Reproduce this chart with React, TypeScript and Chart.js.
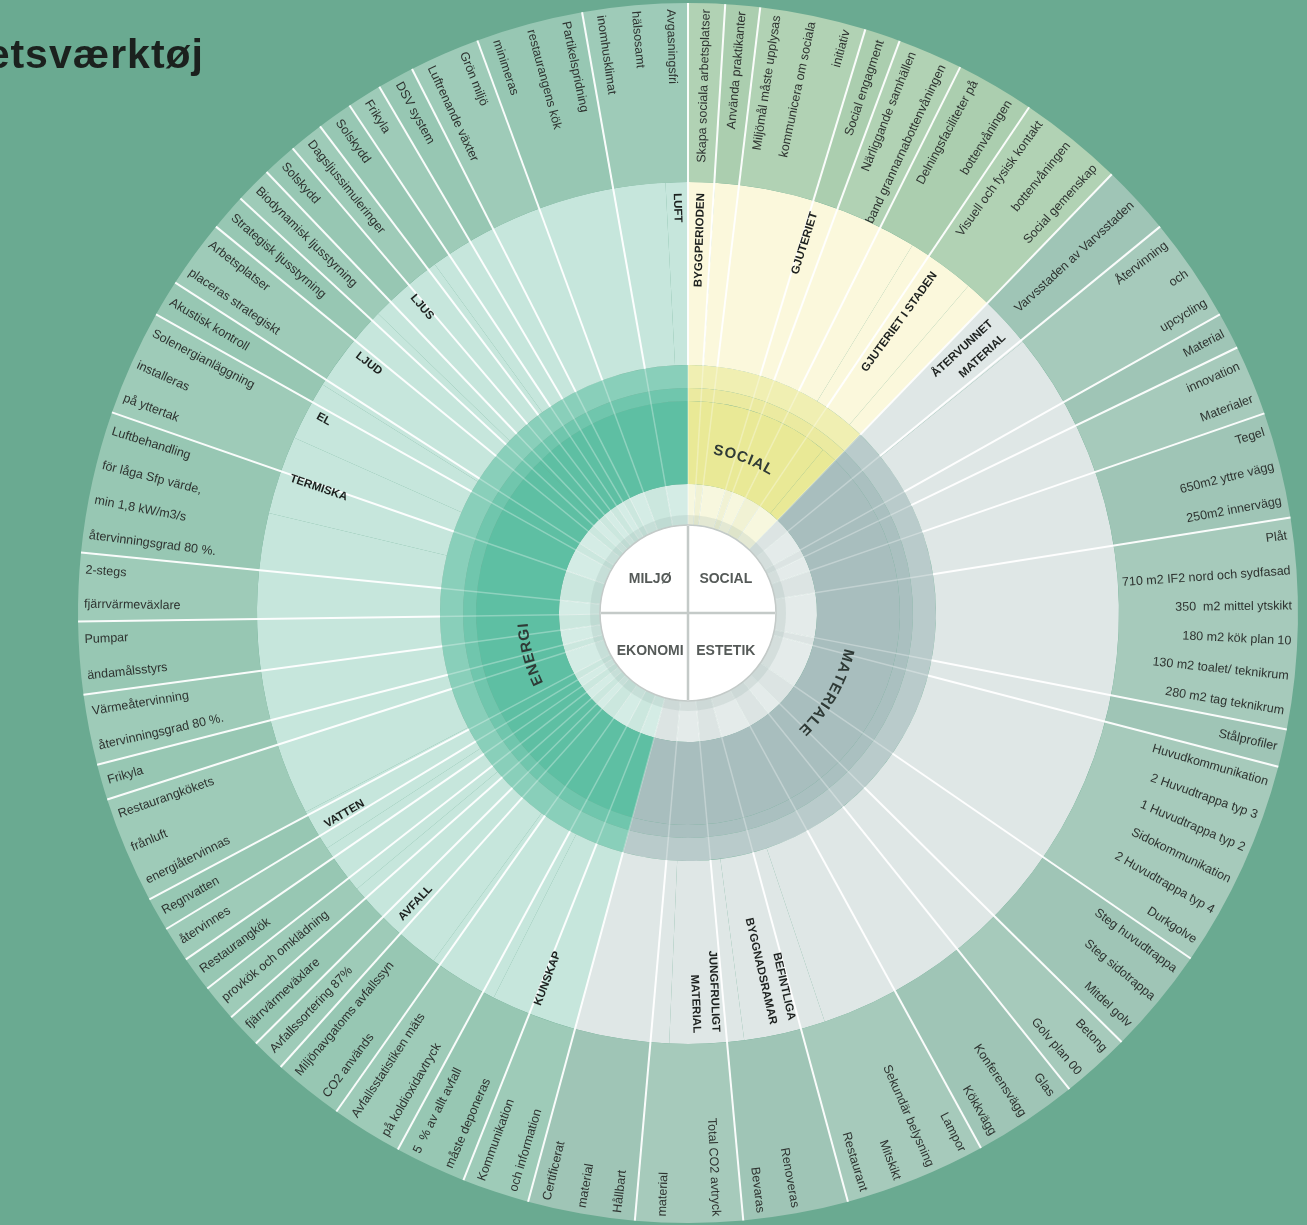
import React, { useEffect, useRef } from 'react';
import { Chart, registerables } from 'chart.js';

Chart.register(...registerables);

const TITLE = 'etsværktøj';
const CENTER_LABELS = ['MILJØ', 'SOCIAL', 'EKONOMI', 'ESTETIK'];

// Main categories, clockwise from 12 o'clock (degrees)
const mainCategories = ['Social', 'Materiale', 'Miljø'];
const mainSpans = [44, 151.2, 164.8];

// Inner labelled ring
const coreLabels = ['SOCIAL', '', 'MATERIALE', 'ENERGI', ''];
const coreSpans = [39.6, 4.4, 151.2, 120.2, 44.6];

// Sub-category ring
const midLabels = [
  'BYGGPERIODEN', 'GJUTERIET', 'GJUTERIET I STADEN', '',
  'ÅTERVUNNET\nMATERIAL', '', 'BEFINTLIGA\nBYGGNADSRAMAR', 'JUNGFRULIGT\nMATERIAL', '',
  'KUNSKAP', '', 'AVFALL', '', 'VATTEN', '', 'TERMISKA', 'EL', 'LJUD', 'LJUS', '', 'LUFT',
];
const midSpans = [
  3.6, 27.8, 9.2, 3.4,
  7, 110.5, 11, 10, 12.7,
  11.6, 9.4, 14, 6.7, 5.6, 40.9, 10.6, 8, 12, 10, 33, 3,
];

// Outer leaves
const leafLabels = [
  // Social
  'Skapa sociala arbetsplatser',
  'Använda praktikanter',
  'Miljömål måste upplysas\nkommunicera om sociala\ninitiativ',
  'Social engagment',
  'Närliggande samhällen\nband grannarnabottenvåningen',
  'Delningsfaciliteter på\nbottenvåningen',
  'Visuell och fysisk kontakt\nbottenvåningen\nSocial gemenskap',
  // Materiale
  'Varvsstaden av Varvsstaden',
  'Återvinning\noch\nupcycling',
  'Material',
  'innovation\nMaterialer',
  'Tegel\n650m2 yttre vägg\n250m2 innervägg',
  'Plåt\n710 m2 IF2 nord och sydfasad\n350  m2 mittel ytskikt\n180 m2 kök plan 10\n130 m2 toalet/ teknikrum\n280 m2 tag teknikrum',
  'Stålprofiler',
  'Huvudkommunikation\n2 Huvudtrappa typ 3\n1 Huvudtrappa typ 2\nSidokommunikation\n2 Huvudtrappa typ 4\nDurkgolve',
  'Steg huvudtrappa\nSteg sidotrappa\nMitdel golv',
  'Betong\nGolv plan 00',
  'Glas\nKonferensvägg\nKökkvägg',
  'Lampor\nSekundär belysning\nMitskikt\nRestaurant',
  '\nRenoveras\nBevaras',
  'Total CO2 avtryck\nmaterial',
  'Certificerat\nmaterial\nHållbart',
  // Miljø
  'Kommunikation\noch information',
  '5  % av allt avfall\nmåste deponeras',
  'Avfallsstatistiken mäts\npå koldioxidavtryck',
  'Miljönavgatoms avfallssyn\nCO2 används',
  'Avfallssortering 87%',
  'fjärrvärmeväxlare',
  'provkök och omklädning',
  'Restaurangkök',
  'återvinnes',
  'Regnvatten',
  'Restaurangkökets\nfrånluft\nenergiåtervinnas',
  'Frikyla',
  'Värmeåtervinning\nåtervinningsgrad 80 %.',
  'Pumpar\nändamålsstyrs',
  '2-stegs\nfjärrvärmeväxlare',
  'Luftbehandling\nför låga Sfp värde,\nmin 1,8 kW/m3/s\nåtervinningsgrad 80 %.',
  'Solenergianläggning\ninstalleras\npå yttertak',
  'Akustisk kontroll',
  'Arbetsplatser\nplaceras strategiskt',
  'Strategisk ljusstyrning',
  'Biodynamisk ljusstyrning',
  'Solskydd',
  'Dagsljussimuleringer',
  'Solskydd',
  'Frikyla',
  'DSV system',
  'Grön miljö\nLuftrenande växter',
  'Partikelspridning\nrestaurangens kök\nminimeras',
  'Avgasningsfri\nhälsosamt\ninomhusklimat',
];
const leafSpans = [
  3.5, 3.3, 10.1, 3.4, 6.2, 7.5, 10,
  6.7, 10, 3.5, 6.7, 10.1, 20, 3.6, 19.9, 10.2, 6.6, 10, 13.5, 10, 10.2, 10.2,
  6.4, 6.8, 6.8, 6.7, 3.2, 3.4, 3.5, 3.4, 3.4, 3.2, 10.2, 3.4, 6.7, 6.9, 6.5, 13.5,
  10.1, 3.5, 6.5, 3.5, 3.5, 3.3, 3.3, 3.4, 3.3, 3.5, 6.7, 10.2, 10,
];

// ---------- styles ----------
const BG = '#6aaa91';
const PALETTE: Record<string, any> = {
  Social: { leaf: ['#b1d2b4', '#abceaf'], mid: '#fbf8dc', band1: '#f0efb2', band2: '#ebeaa0', core: '#e9e996', pale: ['#f7f7de', '#f1f2d4'] },
  Materiale: { leaf: ['#a6cabb', '#9fc5b6'], mid: '#dfe7e6', band1: '#b9cbcb', band2: '#aac0c0', core: '#a8bebe', pale: ['#e4ebea', '#dce4e3'] },
  'Miljø': { leaf: ['#9ecbb8', '#97c7b3'], mid: '#c6e6dc', band1: '#89cfba', band2: '#70c6ad', core: '#5ebfa3', pale: ['#d4ece5', '#cbe7de'] },
};
const FONT = '"Liberation Sans", Arial, sans-serif';

function catOf(deg: number): string {
  let acc = 0;
  for (let i = 0; i < mainSpans.length; i++) {
    acc += mainSpans[i];
    if (deg < acc) return mainCategories[i];
  }
  return mainCategories[mainCategories.length - 1];
}

function colorsFor(spans: number[], pick: (p: any, i: number) => string): string[] {
  let acc = 0;
  return spans.map((s, i) => {
    const c = catOf(acc + s / 2);
    acc += s;
    return pick(PALETTE[c], i);
  });
}

function radialText(ctx: CanvasRenderingContext2D, t: string, cx: number, cy: number, a: number, r: number, dy: number, orient: number) {
  ctx.save();
  ctx.translate(cx, cy);
  if (Math.cos(orient) >= 0) {
    ctx.rotate(a);
    ctx.textAlign = 'right';
    ctx.fillText(t, r, dy);
  } else {
    ctx.rotate(a + Math.PI);
    ctx.textAlign = 'left';
    ctx.fillText(t, -r, dy);
  }
  ctx.restore();
}

function arcText(ctx: CanvasRenderingContext2D, text: string, cx: number, cy: number, r: number, center: number, spacing: number) {
  const chars = [...text];
  const widths = chars.map((ch) => ctx.measureText(ch).width);
  const total = widths.reduce((a, b) => a + b, 0) + spacing * (chars.length - 1);
  let cur = center - total / 2 / r;
  chars.forEach((ch, i) => {
    const w = widths[i];
    const a = cur + w / 2 / r;
    ctx.save();
    ctx.translate(cx + r * Math.cos(a), cy + r * Math.sin(a));
    ctx.rotate(a + Math.PI / 2);
    ctx.textAlign = 'center';
    ctx.textBaseline = 'middle';
    ctx.fillText(ch, 0, 0);
    ctx.restore();
    cur += (w + spacing) / r;
  });
}

const sunburstPlugin = {
  id: 'sunburst',
  beforeDraw(chart: any) {
    const { ctx, width, height } = chart;
    ctx.save();
    ctx.fillStyle = BG;
    ctx.fillRect(0, 0, width, height);
    ctx.restore();
  },
  afterDatasetsDraw(chart: any) {
    const ctx: CanvasRenderingContext2D = chart.ctx;
    const meta = (i: number) => chart.getDatasetMeta(i).data as any[];
    const leaves = meta(0);
    const mids = meta(1);
    const cores = meta(4);
    const pale = meta(5);
    const cx = leaves[0].x;
    const cy = leaves[0].y;
    const rOut = leaves[0].outerRadius;
    const rLeafIn = leaves[0].innerRadius;
    const rMidIn = mids[0].innerRadius;
    const rPaleOut = pale[0].outerRadius;
    const rHole = pale[0].innerRadius;

    const seg = (a: number, r0: number, r1: number, color: string, w: number) => {
      ctx.beginPath();
      ctx.moveTo(cx + r0 * Math.cos(a), cy + r0 * Math.sin(a));
      ctx.lineTo(cx + r1 * Math.cos(a), cy + r1 * Math.sin(a));
      ctx.strokeStyle = color;
      ctx.lineWidth = w;
      ctx.stroke();
    };

    // separator lines through all rings
    ctx.save();
    leaves.forEach((arc) => {
      const a = arc.startAngle;
      seg(a, rHole, rPaleOut, 'rgba(255,255,255,0.6)', 1);
      seg(a, rPaleOut, rMidIn, 'rgba(255,255,255,0.3)', 1.5);
      seg(a, rMidIn, rOut, 'rgba(255,255,255,0.95)', 2);
    });
    ctx.restore();

    // leaf labels
    ctx.save();
    ctx.font = `12.5px ${FONT}`;
    ctx.fillStyle = '#2e3330';
    ctx.textBaseline = 'middle';
    leaves.forEach((arc, i) => {
      const lines = leafLabels[i].split('\n');
      const n = lines.length;
      const step = (arc.endAngle - arc.startAngle) / n;
      const right = Math.cos((arc.startAngle + arc.endAngle) / 2) >= 0;
      lines.forEach((t, j) => {
        if (!t) return;
        const a = right ? arc.startAngle + (j + 0.5) * step : arc.endAngle - (j + 0.5) * step;
        radialText(ctx, t, cx, cy, a, rOut - 6, 0, a);
      });
    });
    ctx.restore();

    // sub-category labels
    ctx.save();
    ctx.font = `bold 11.5px ${FONT}`;
    ctx.fillStyle = '#1d211f';
    ctx.textBaseline = 'middle';
    mids.forEach((arc, i) => {
      const lab = midLabels[i];
      if (!lab) return;
      const lines = lab.split('\n');
      const a = (arc.startAngle + arc.endAngle) / 2;
      lines.forEach((t, j) => {
        radialText(ctx, t, cx, cy, a, rLeafIn - 11, (j - (lines.length - 1) / 2) * 19, a);
      });
    });
    ctx.restore();

    // core labels (curved)
    ctx.save();
    ctx.font = `bold 15px ${FONT}`;
    ctx.fillStyle = '#2f3a36';
    cores.forEach((arc, i) => {
      const lab = coreLabels[i];
      if (!lab) return;
      const r = arc.innerRadius + 0.43 * (arc.outerRadius - arc.innerRadius);
      arcText(ctx, lab, cx, cy, r, (arc.startAngle + arc.endAngle) / 2, 1.2);
    });
    ctx.restore();

    // centre disc
    ctx.save();
    ctx.beginPath();
    ctx.arc(cx, cy, rHole + 5, 0, Math.PI * 2);
    ctx.strokeStyle = 'rgba(140,165,158,0.18)';
    ctx.lineWidth = 10;
    ctx.stroke();
    ctx.beginPath();
    ctx.arc(cx, cy, rHole, 0, Math.PI * 2);
    ctx.fillStyle = '#ffffff';
    ctx.fill();
    ctx.strokeStyle = '#c3cac8';
    ctx.lineWidth = 1.5;
    ctx.stroke();
    ctx.beginPath();
    ctx.moveTo(cx, cy - rHole + 1);
    ctx.lineTo(cx, cy + rHole - 1);
    ctx.moveTo(cx - rHole + 1, cy);
    ctx.lineTo(cx + rHole - 1, cy);
    ctx.strokeStyle = '#c4cac8';
    ctx.lineWidth = 2.5;
    ctx.stroke();
    ctx.font = `bold 14px ${FONT}`;
    ctx.fillStyle = '#555a58';
    ctx.textAlign = 'center';
    ctx.textBaseline = 'middle';
    const qx = rHole * 0.43;
    const qy = rHole * 0.41;
    CENTER_LABELS.forEach((t, i) => {
      const sx = i % 2 === 0 ? -1 : 1;
      const sy = i < 2 ? -1 : 1;
      ctx.fillText(t, cx + sx * qx, cy + 2 + sy * qy);
    });
    ctx.restore();
  },
  afterDraw(chart: any) {
    const ctx: any = chart.ctx;
    ctx.save();
    ctx.font = `bold 41px ${FONT}`;
    ctx.fillStyle = '#1b211e';
    ctx.textAlign = 'right';
    ctx.textBaseline = 'alphabetic';
    ctx.letterSpacing = '1px';
    ctx.fillText(TITLE, 204, 68);
    ctx.restore();
  },
};

export default function App() {
  const ref = useRef<HTMLCanvasElement>(null);
  useEffect(() => {
    if (!ref.current) return;
    const common = { borderWidth: 0, hoverBorderWidth: 0, hoverOffset: 0, offset: 0 };
    const chart = new Chart(ref.current, {
      type: 'doughnut',
      data: {
        labels: leafLabels.map((l) => l.replace(/\n/g, ' ')),
        datasets: [
          { data: leafSpans, weight: 179, backgroundColor: colorsFor(leafSpans, (p, i) => p.leaf[i % 2]), ...common } as any,
          { data: midSpans, weight: 183, backgroundColor: colorsFor(midSpans, (p) => p.mid), ...common } as any,
          { data: mainSpans, weight: 23, backgroundColor: colorsFor(mainSpans, (p) => p.band1), ...common } as any,
          { data: mainSpans, weight: 13, backgroundColor: colorsFor(mainSpans, (p) => p.band2), ...common } as any,
          { data: coreSpans, weight: 83, backgroundColor: colorsFor(coreSpans, (p) => p.core), ...common } as any,
          { data: leafSpans, weight: 41, backgroundColor: colorsFor(leafSpans, (p, i) => p.pale[i % 2]), ...common } as any,
        ],
      },
      options: {
        responsive: false,
        maintainAspectRatio: false,
        animation: false,
        events: [],
        cutout: 88,
        rotation: 0,
        layout: { padding: { left: 78, right: 9, top: 3, bottom: 2 } },
        plugins: { legend: { display: false }, tooltip: { enabled: false } },
      } as any,
      plugins: [sunburstPlugin],
    });
    return () => chart.destroy();
  }, []);
  return (
    <div style={{ position: 'absolute', left: 0, top: 0, width: 1307, height: 1225, overflow: 'hidden', background: BG }}>
      <canvas ref={ref} width={1307} height={1225} style={{ display: 'block', width: 1307, height: 1225 }} />
    </div>
  );
}
